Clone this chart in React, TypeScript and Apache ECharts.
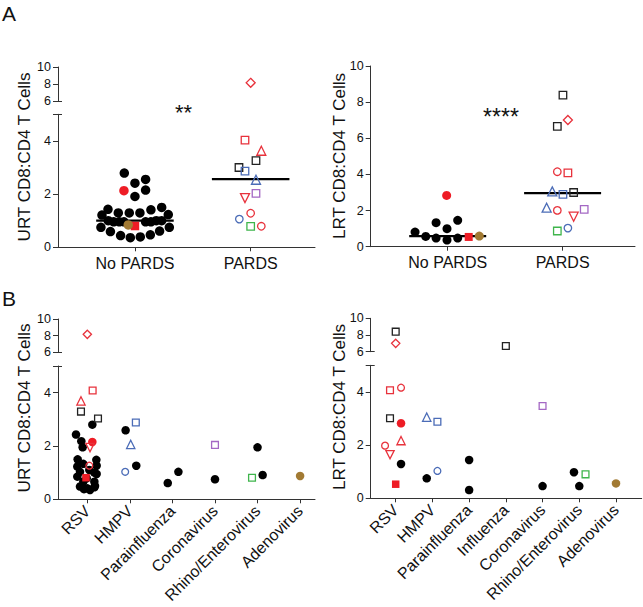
import { useEffect, useRef } from 'react';
import * as echarts from 'echarts';

// ---------- data ----------
const pardsGroups = ['No PARDS', 'PARDS'];
const urtViruses = ['RSV', 'HMPV', 'Parainfluenza', 'Coronavirus', 'Rhino/Enterovirus', 'Adenovirus'];
const lrtViruses = ['RSV', 'HMPV', 'Parainfluenza', 'Influenza', 'Coronavirus', 'Rhino/Enterovirus', 'Adenovirus'];

const yLabelsBrokenLow = [0, 2, 4];
const yLabelsBrokenHigh = [6, 8, 10];
const yLabelsFull = [0, 2, 4, 6, 8, 10];

// [group index, horizontal jitter, CD8:CD4 ratio, patient marker]
type Pt = [number, number, number, string];

const urtByPards: Pt[] = [
  [0, -0.092, 2.79, 'dot'], [0, -0.095, 2.13, 'redDot'], [0, 0, 2.41, 'dot'], [0, 0.092, 2.55, 'dot'],
  [0, 0.092, 2.15, 'dot'], [0, 0, 1.91, 'dot'],
  [0, -0.285, 1.21, 'dot'], [0, -0.233, 1.43, 'dot'], [0, -0.144, 1.29, 'dot'], [0, -0.049, 1.29, 'dot'],
  [0, 0.043, 1.29, 'dot'], [0, 0.138, 1.41, 'dot'], [0, 0.231, 1.5, 'dot'], [0, 0.288, 1.23, 'dot'],
  [0, -0.231, 1.0, 'dot'], [0, -0.184, 0.96, 'dot'], [0, -0.135, 0.96, 'dot'], [0, -0.095, 0.96, 'dot'],
  [0, 0.092, 0.96, 'dot'], [0, 0.138, 0.96, 'dot'], [0, 0.184, 1.0, 'dot'], [0, 0.231, 1.0, 'dot'],
  [0, -0.294, 0.75, 'dot'], [0, -0.212, 0.59, 'dot'], [0, -0.124, 0.44, 'dot'], [0, -0.04, 0.36, 'dot'],
  [0, 0.046, 0.39, 'dot'], [0, 0.133, 0.47, 'dot'], [0, 0.213, 0.61, 'dot'], [0, 0.297, 0.75, 'dot'],
  [0, -0.058, 0.84, 'brownDot'], [0, 0, 0.8, 'redSquare'],
  [1, 0, 8.14, 'redDiamond'], [1, -0.049, 4.03, 'redSquareOpen'], [1, 0.092, 3.63, 'redTriangle'],
  [1, 0.046, 3.26, 'blackSquare'], [1, -0.101, 3.0, 'blackSquare'], [1, -0.049, 2.86, 'blueSquare'],
  [1, 0.046, 2.54, 'blueTriangle'], [1, 0.046, 2.03, 'purpleSquare'], [1, -0.049, 1.85, 'redDownTriangle'],
  [1, 0, 1.28, 'redCircle'], [1, -0.098, 1.06, 'blueCircle'], [1, 0, 0.79, 'greenSquare'], [1, 0.092, 0.79, 'redCircle'],
];
const urtMedians = [1.0, 2.56];

const lrtByPards: Pt[] = [
  [0, -0.009, 2.84, 'redDot'], [0, -0.284, 0.81, 'dot'], [0, -0.191, 0.57, 'dot'], [0, -0.101, 1.33, 'dot'],
  [0, -0.101, 0.48, 'dot'], [0, -0.006, 1.0, 'dot'], [0, -0.006, 0.37, 'dot'], [0, 0.087, 1.46, 'dot'],
  [0, 0.087, 0.48, 'dot'], [0, 0.183, 0.54, 'redSquare'], [0, 0.275, 0.59, 'brownDot'],
  [1, 0.003, 8.39, 'blackSquare'], [1, 0.046, 7.01, 'redDiamond'], [1, -0.046, 6.66, 'blackSquare'],
  [1, -0.046, 4.15, 'redCircle'], [1, 0.046, 4.08, 'redSquareOpen'], [1, -0.09, 3.06, 'blueTriangle'],
  [1, 0.003, 2.9, 'blueSquare'], [1, 0.096, 3.0, 'blackSquare'], [1, -0.139, 2.16, 'blueTriangle'],
  [1, -0.046, 2.01, 'redCircle'], [1, 0.188, 2.07, 'purpleSquare'], [1, 0.096, 1.66, 'redDownTriangle'],
  [1, 0.046, 1.03, 'blueCircle'], [1, -0.046, 0.87, 'greenSquare'],
];
const lrtMedians = [0.59, 2.97];

const urtByVirus: Pt[] = [
  [0, 0.118, 2.8, 'dot'], [0, -0.266, 2.43, 'dot'], [0, -0.141, 2.18, 'dot'], [0, -0.11, 1.95, 'dot'],
  [0, -0.227, 1.5, 'dot'], [0, 0.212, 1.48, 'dot'], [0, -0.094, 1.33, 'dot'], [0, -0.235, 1.23, 'dot'],
  [0, 0.219, 1.26, 'dot'], [0, 0.165, 1.0, 'dot'], [0, -0.172, 1.03, 'dot'], [0, -0.235, 0.85, 'dot'],
  [0, 0.219, 0.95, 'dot'], [0, -0.094, 0.66, 'dot'], [0, 0.165, 0.66, 'dot'], [0, -0.172, 0.48, 'dot'],
  [0, 0, 0.41, 'dot'], [0, 0.165, 0.45, 'dot'], [0, -0.078, 0.38, 'dot'], [0, 0.063, 0.35, 'dot'],
  [0, 0.18, 0.5, 'dot'], [0, -0.016, 0.79, 'dot'], [0, 0.047, 1.1, 'dot'],
  [0, 0.118, 2.15, 'redDot'], [0, 0.063, 1.94, 'redDownTriangle'], [0, 0.047, 1.26, 'redCircle'],
  [0, -0.031, 0.81, 'redSquare'],
  [0, 0, 8.16, 'redDiamond'], [0, 0.125, 4.08, 'redSquareOpen'], [0, -0.149, 3.69, 'redTriangle'],
  [0, -0.149, 3.29, 'blackSquare'], [0, 0.251, 3.03, 'blackSquare'],
  [1, 0.14, 2.88, 'blueSquare'], [1, -0.1, 2.59, 'dot'], [1, 0.02, 2.06, 'blueTriangle'],
  [1, 0.15, 1.26, 'dot'], [1, -0.11, 1.03, 'blueCircle'],
  [2, -0.11, 0.61, 'dot'], [2, 0.14, 1.03, 'dot'],
  [3, 0, 2.04, 'purpleSquare'], [3, 0, 0.75, 'dot'],
  [4, 0, 1.95, 'dot'], [4, -0.13, 0.81, 'greenSquare'], [4, 0.12, 0.91, 'dot'],
  [5, 0, 0.875, 'brownDot'],
];

const lrtByVirus: Pt[] = [
  [0, 0, 8.4, 'blackSquare'], [0, 0, 7.0, 'redDiamond'], [0, -0.155, 4.06, 'redSquareOpen'],
  [0, 0.145, 4.16, 'redCircle'], [0, -0.155, 3.01, 'blackSquare'], [0, 0.145, 2.82, 'redDot'],
  [0, 0.145, 2.17, 'redTriangle'], [0, -0.29, 1.98, 'redCircle'], [0, -0.155, 1.64, 'redDownTriangle'],
  [0, 0.145, 1.29, 'dot'], [0, 0, 0.53, 'redSquare'],
  [1, -0.155, 3.05, 'blueTriangle'], [1, 0.136, 2.88, 'blueSquare'], [1, 0.136, 1.03, 'blueCircle'],
  [1, -0.155, 0.75, 'dot'],
  [2, 0, 1.44, 'dot'], [2, 0, 0.31, 'dot'],
  [3, 0, 6.68, 'blackSquare'],
  [4, 0, 3.47, 'purpleSquare'], [4, 0, 0.46, 'dot'],
  [5, -0.145, 0.98, 'dot'], [5, 0.17, 0.9, 'greenSquare'], [5, 0, 0.46, 'dot'],
  [6, 0, 0.56, 'brownDot'],
];

// ---------- styles ----------
const FONT = 'Liberation Sans, Arial, sans-serif';
const AX = '#333';
const RED = '#ee1c25';
const RED_O = '#e8323c';
const BLUE = '#4b6cb7';
const PURPLE = '#a468c4';
const GREEN = '#3fb54c';
const BROWN = '#a27a33';

const MARKERS: Record<string, { symbol: string; color: string; fill?: boolean; rotate?: number; grow?: number }> = {
  dot: { symbol: 'circle', color: '#000', fill: true },
  redDot: { symbol: 'circle', color: RED, fill: true },
  redSquare: { symbol: 'rect', color: RED, fill: true, grow: -1 },
  brownDot: { symbol: 'circle', color: BROWN, fill: true },
  redDiamond: { symbol: 'diamond', color: RED_O, grow: 1.5 },
  redSquareOpen: { symbol: 'rect', color: RED_O },
  redTriangle: { symbol: 'triangle', color: RED_O, grow: 1.5 },
  redDownTriangle: { symbol: 'triangle', color: RED_O, rotate: 180, grow: 1.5 },
  redCircle: { symbol: 'circle', color: RED_O },
  blackSquare: { symbol: 'rect', color: '#222' },
  blueSquare: { symbol: 'rect', color: BLUE },
  blueTriangle: { symbol: 'triangle', color: BLUE, grow: 1.5 },
  blueCircle: { symbol: 'circle', color: BLUE },
  purpleSquare: { symbol: 'rect', color: PURPLE },
  greenSquare: { symbol: 'rect', color: GREEN },
};

type Panel = {
  pts: Pt[]; cats: string[]; medians?: number[];
  left: number; right: number; y0: number; y5?: number; y6?: number; y10: number;
  xMin: number; xMax: number; rotate: number; dot: number; open: number;
};

const panels: Panel[] = [
  { pts: urtByPards, cats: pardsGroups, medians: urtMedians, left: 58, right: 315, y0: 247.3, y5: 114.3, y6: 101, y10: 67, xMin: -0.665, xMax: 1.556, rotate: 0, dot: 9.5, open: 7.5 },
  { pts: lrtByPards, cats: pardsGroups, medians: lrtMedians, left: 370.7, right: 635, y0: 246.7, y10: 66, xMin: -0.67, xMax: 1.63, rotate: 0, dot: 9, open: 7.5 },
  { pts: urtByVirus, cats: urtViruses, left: 58, right: 315, y0: 499.3, y5: 366, y6: 352.3, y10: 319, xMin: -0.689, xMax: 5.35, rotate: 45, dot: 8.5, open: 6.8 },
  { pts: lrtByVirus, cats: lrtViruses, left: 370.7, right: 641.7, y0: 498.3, y5: 365.3, y6: 351.7, y10: 318.3, xMin: -0.681, xMax: 6.7, rotate: 45, dot: 8.5, open: 6.8 },
];

const lineStyle = { color: AX, width: 1 };
const tickLabel = { fontSize: 12.5, color: '#111', fontFamily: FONT };

function buildOption() {
  const grid: any[] = [];
  const xAxis: any[] = [];
  const yAxis: any[] = [];
  const series: any[] = [];

  panels.forEach((p) => {
    const broken = p.y5 !== undefined;
    const lowTop = broken ? (p.y5 as number) : p.y10;
    const gLow = grid.length;
    grid.push({ left: p.left, top: lowTop, width: p.right - p.left, height: p.y0 - lowTop });
    const xLow = xAxis.length;
    const catIdx = p.cats.map((_, i) => i);
    xAxis.push({
      type: 'value', gridIndex: gLow, min: p.xMin, max: p.xMax,
      axisLine: { show: true, onZero: false, lineStyle },
      splitLine: { show: false },
      axisTick: { show: true, customValues: catIdx, length: 4, lineStyle },
      axisLabel: {
        customValues: catIdx, formatter: (v: number) => p.cats[Math.round(v)] ?? '',
        rotate: p.rotate, margin: p.rotate ? 9 : 8, fontSize: 16, color: '#111', fontFamily: FONT,
      },
    });
    const yLow = yAxis.length;
    yAxis.push({
      type: 'value', gridIndex: gLow, min: 0, max: broken ? 5 : 10,
      axisLine: { show: true, onZero: false, lineStyle },
      splitLine: { show: false },
      axisTick: { show: true, customValues: broken ? [...yLabelsBrokenLow, 5] : yLabelsFull, length: 5, lineStyle },
      axisLabel: { customValues: broken ? yLabelsBrokenLow : yLabelsFull, margin: 7, ...tickLabel },
    });
    let xHigh = -1;
    let yHigh = -1;
    if (broken) {
      // break cap on top of the lower segment
      yAxis.push({
        type: 'value', gridIndex: gLow, min: 0, max: 5, position: 'left',
        axisLine: { show: false, onZero: false }, splitLine: { show: false },
        axisTick: { show: true, inside: true, customValues: [5], length: 4, lineStyle },
        axisLabel: { show: false },
      });
      const gHigh = grid.length;
      grid.push({ left: p.left, top: p.y10, width: p.right - p.left, height: (p.y6 as number) - p.y10 });
      xHigh = xAxis.length;
      xAxis.push({ type: 'value', gridIndex: gHigh, min: p.xMin, max: p.xMax, show: false });
      yHigh = yAxis.length;
      yAxis.push({
        type: 'value', gridIndex: gHigh, min: 6, max: 10,
        axisLine: { show: true, onZero: false, lineStyle },
        splitLine: { show: false },
        axisTick: { show: true, customValues: yLabelsBrokenHigh, length: 5, lineStyle },
        axisLabel: { customValues: yLabelsBrokenHigh, margin: 7, ...tickLabel },
      });
      yAxis.push({
        type: 'value', gridIndex: gHigh, min: 6, max: 10, position: 'left',
        axisLine: { show: false, onZero: false }, splitLine: { show: false },
        axisTick: { show: true, inside: true, customValues: [6], length: 4, lineStyle },
        axisLabel: { show: false },
      });
    }

    // medians
    (p.medians || []).forEach((m, i) => {
      series.push({
        type: 'line', xAxisIndex: xLow, yAxisIndex: yLow, symbol: 'none', silent: true, z: 1,
        lineStyle: { color: '#000', width: 2.2 },
        data: [[i - 0.335, m], [i + 0.335, m]],
      });
    });

    // scatter groups by marker and segment
    const groups: Record<string, any[]> = {};
    p.pts.forEach(([c, j, v, mk]) => {
      const seg = broken && v > 5.5 ? 'high' : 'low';
      const key = mk + '|' + seg;
      (groups[key] = groups[key] || []).push([c + j, v]);
    });
    const order = Object.keys(MARKERS);
    Object.keys(groups)
      .sort((a, b) => order.indexOf(a.split('|')[0]) - order.indexOf(b.split('|')[0]))
      .forEach((key) => {
        const [mk, seg] = key.split('|');
        const st = MARKERS[mk];
        const size = (st.fill ? p.dot : p.open) + (st.grow || 0);
        series.push({
          type: 'scatter', z: 3,
          xAxisIndex: seg === 'high' ? xHigh : xLow,
          yAxisIndex: seg === 'high' ? yHigh : yLow,
          symbol: st.symbol, symbolSize: size, symbolRotate: st.rotate || 0,
          itemStyle: st.fill
            ? { color: st.color, opacity: 1 }
            : { color: 'rgba(255,255,255,0)', borderColor: st.color, borderWidth: 1.3, opacity: 1 },
          emphasis: { disabled: true },
          data: groups[key],
        });
      });
  });

  const titleStyle = { fontSize: 17, fontFamily: FONT, fill: '#111', textAlign: 'center', textVerticalAlign: 'middle' };
  const graphic = [
    { type: 'text', x: 2, y: 13, style: { text: 'A', fontSize: 21, fontFamily: FONT, fill: '#111', textVerticalAlign: 'middle' } },
    { type: 'text', x: 2, y: 298, style: { text: 'B', fontSize: 21, fontFamily: FONT, fill: '#111', textVerticalAlign: 'middle' } },
    { type: 'text', x: 24.5, y: 157, rotation: Math.PI / 2, style: { text: 'URT CD8:CD4 T Cells', ...titleStyle } },
    { type: 'text', x: 339, y: 156, rotation: Math.PI / 2, style: { text: 'LRT CD8:CD4 T Cells', ...titleStyle } },
    { type: 'text', x: 24.5, y: 408, rotation: Math.PI / 2, style: { text: 'URT CD8:CD4 T Cells', ...titleStyle } },
    { type: 'text', x: 339, y: 407, rotation: Math.PI / 2, style: { text: 'LRT CD8:CD4 T Cells', ...titleStyle } },
    { type: 'text', x: 183.5, y: 112, style: { text: '**', fontSize: 22, fontFamily: FONT, fill: '#111', textAlign: 'center', textVerticalAlign: 'middle' } },
    { type: 'text', x: 501, y: 117, style: { text: '****', fontSize: 23, fontFamily: FONT, fill: '#111', textAlign: 'center', textVerticalAlign: 'middle' } },
  ];

  return { animation: false, backgroundColor: '#fff', grid, xAxis, yAxis, series, graphic };
}

export default function App() {
  const ref = useRef<HTMLDivElement>(null);
  useEffect(() => {
    if (!ref.current) return;
    const chart = echarts.init(ref.current, undefined, { renderer: 'svg' });
    chart.setOption(buildOption() as any);
    return () => chart.dispose();
  }, []);
  return <div ref={ref} style={{ position: 'fixed', left: 0, top: 0, width: 643, height: 607 }} />;
}
